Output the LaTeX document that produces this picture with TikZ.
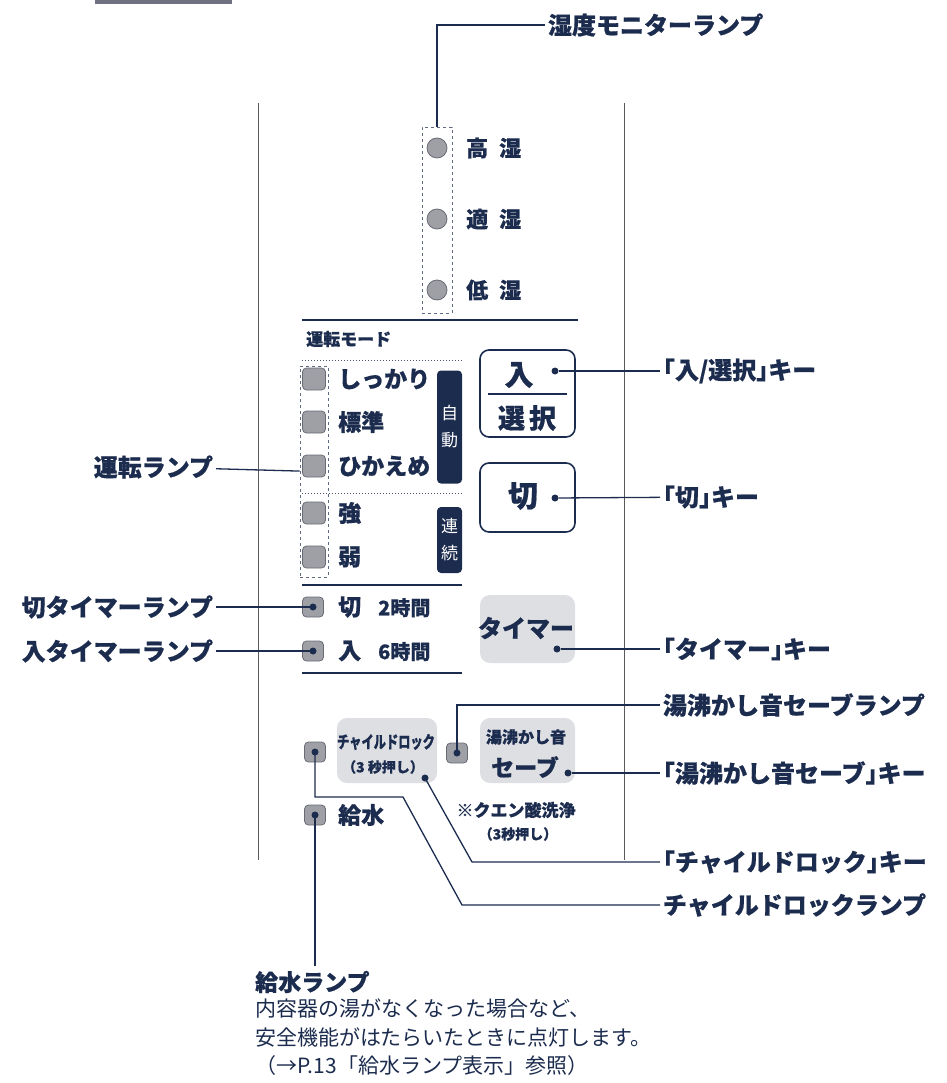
\documentclass[tikz,border=0pt]{standalone}
\usepackage{fontspec}
\usepackage{graphicx}
\setmainfont{Noto Sans CJK JP}[BoldFeatures={FakeBold=0.6}]
\usepackage{tikz}
\usetikzlibrary{positioning}
\definecolor{navy}{RGB}{28,44,78}
\definecolor{lampgray}{RGB}{158,160,166}
\definecolor{lampedge}{RGB}{105,108,116}
\definecolor{keygray}{RGB}{222,223,227}
\definecolor{tabgray}{RGB}{112,114,130}
\newcommand{\jsz}[1]{\fontsize{#1}{#1}\selectfont}
\newcommand{\kbra}[1]{{\addfontfeature{RawFeature=+halt}「}#1{\addfontfeature{RawFeature=+halt}」}}

\begin{document}
\begin{tikzpicture}[x=1pt, y=-1pt,
    lbl/.style={font=\bfseries\jsz{24}, text=navy, inner sep=0pt, outer sep=3pt},
    ptxt/.style={font=\bfseries\jsz{23}, text=navy, inner sep=0pt},
    leader/.style={draw=navy, line width=1.3pt},
    rule/.style={draw=navy, line width=1.5pt},
    hlamp/.style={circle, draw=lampedge, fill=lampgray, line width=0.8pt, minimum size=20pt, inner sep=0pt},
    mlamp/.style={rectangle, rounded corners=4pt, draw=lampedge, fill=lampgray, line width=0.8pt, minimum width=23pt, minimum height=22pt, inner sep=0pt},
    dlamp/.style={rectangle, rounded corners=4pt, draw=lampedge, fill=lampgray, line width=0.8pt, minimum width=21pt, minimum height=20pt, inner sep=0pt,
        path picture={\fill[navy] (path picture bounding box.center) circle (3.5pt);}},
    dashbox/.style={draw=navy!70, dashed, line width=0.8pt, inner sep=0pt},
    keybox/.style={draw=navy, line width=1.6pt, rounded corners=9pt, minimum width=95pt, inner sep=0pt},
    graykey/.style={fill=keygray, rounded corners=10pt, minimum width=95pt, inner sep=0pt},
    tagbox/.style={fill=navy, rounded corners=4pt, minimum width=25pt, inner sep=0pt, text=white,
        font=\fontsize{17}{27}\selectfont, align=center},
    keydot/.style={circle, fill=navy, minimum size=7pt, inner sep=0pt}]

    \useasboundingbox (0,0) rectangle (946,1083);
    \fill[tabgray] (95,0) rectangle (232,4);
    \draw[gray!70!black, line width=0.8pt] (258,103) -- (258,860) (624,103) -- (624,860);

    % humidity monitor
    \node[dashbox, minimum width=30pt, minimum height=186pt] (hbox) at (437,220) {};
    \node[hlamp] (hhi) at (437,148) {};
    \node[hlamp] (hmid) at (437,219) {};
    \node[hlamp] (hlo) at (437,290) {};
    \node[ptxt, anchor=west, font=\bfseries\jsz{22}] (thi) at (466,148) {高\hspace{11pt}湿};
    \node[ptxt, anchor=west, font=\bfseries\jsz{22}] (tmid) at (466,219) {適\hspace{11pt}湿};
    \node[ptxt, anchor=west, font=\bfseries\jsz{22}] (tlo) at (466,290) {低\hspace{11pt}湿};
    \node[lbl, anchor=west] (hmon) at (545,25) {湿度モニターランプ};
    \draw[rule] (302,320) -- (578,320);

    % mode lamps
    \node[ptxt, anchor=west, font=\bfseries\jsz{17}] (mtitle) at (306,339) {運転モード};
    \draw[draw=navy!80, dotted, line width=1pt] (302,360) -- (462,360) (302,493) -- (462,493);
    \node[dashbox, minimum width=28pt, minimum height=211pt] (mbox) at (314,471.5) {};
    \foreach \y/\nm/\txt in {379/m1/しっかり, 422/m2/標準, 466/m3/ひかえめ, 513/m4/強, 557/m5/弱} {
        \node[mlamp] (\nm) at (314,\y) {};
        \node[ptxt, anchor=west] at (338,\y) {\txt};
    }
    \node[tagbox, minimum height=113pt] (auto) at (449.5,427) {自\\動};
    \node[tagbox, minimum height=66pt] (cont) at (449.5,540) {連\\続};
    \draw[rule] (302,585) -- (462,585);

    % timer lamps
    \node[dlamp] (toff) at (313,607) {};
    \node[dlamp] (ton) at (313,651) {};
    \node[ptxt, anchor=west] at (338,607) {切\hspace{17pt}{\jsz{20}2時間}};
    \node[ptxt, anchor=west] at (338,651) {入\hspace{17pt}{\jsz{20}6時間}};
    \draw[rule] (302,673) -- (462,673);

    % keys
    \node[keybox, minimum height=87pt] (kin) at (527.5,393.5) {};
    \node[ptxt, font=\bfseries\jsz{29}] at (519,375) {入};
    \draw[navy, line width=1.5pt] (488,394) -- (567,394);
    \node[ptxt, font=\bfseries\jsz{27}] at (527,418) {選\hspace{4pt}択};
    \node[keydot] (din) at (555,371) {};

    \node[keybox, minimum height=69pt] (kkiri) at (527.5,497.5) {};
    \node[ptxt, font=\bfseries\jsz{30}] at (523,496) {切};
    \node[keydot] (dkiri) at (555,498) {};

    \node[graykey, minimum height=68pt] (ktimer) at (527.5,629) {};
    \node[ptxt, font=\bfseries\jsz{24}] at (526,628) {タイマー};
    \node[keydot] (dtimer) at (557,649) {};

    \node[graykey, minimum width=100pt, minimum height=65pt] (kchild) at (387,750.5) {};
    \node[ptxt] at (386,742) {\scalebox{0.72}[1]{\jsz{17}チャイルドロック}};
    \node[ptxt, font=\bfseries\jsz{14}] at (383,767) {（3 秒押し）};
    \node[keydot] (dchild) at (425,778) {};

    \node[graykey, minimum height=65pt] (kyu) at (527.5,750.5) {};
    \node[ptxt, font=\bfseries\jsz{16}] at (526,737) {湯沸かし音};
    \node[ptxt, font=\bfseries\jsz{23}] at (525,767) {セーブ};
    \node[keydot] (dyu) at (568,773) {};

    % lower lamps
    \node[dlamp] (lchild) at (315,752) {};
    \node[dlamp] (lyu) at (457,753) {};
    \node[dlamp] (lwater) at (315,815) {};
    \node[ptxt, anchor=west] at (338,815) {給水};
    \node[ptxt, font=\bfseries\jsz{17}] at (516,810) {※クエン酸洗浄};
    \node[ptxt, font=\bfseries\jsz{14}] at (518,834) {（3秒押し）};

    % labels
    \node[lbl, anchor=east] (lrun) at (216,467) {運転ランプ};
    \node[lbl, anchor=east] (loff) at (216,607) {切タイマーランプ};
    \node[lbl, anchor=east] (lon) at (216,651) {入タイマーランプ};
    \node[lbl, anchor=west] (rin) at (660,371) {\kbra{入/選択}キー};
    \node[lbl, anchor=west] (rkiri) at (660,497) {\kbra{切}キー};
    \node[lbl, anchor=west] (rtimer) at (660,649) {\kbra{タイマー}キー};
    \node[lbl, anchor=west] (ryulamp) at (660,705) {湯沸かし音セーブランプ};
    \node[lbl, anchor=west] (ryukey) at (660,773) {\kbra{湯沸かし音セーブ}キー};
    \node[lbl, anchor=west] (rchild) at (660,862) {\kbra{チャイルドロック}キー};
    \node[lbl, anchor=west] (rclamp) at (660,905) {チャイルドロックランプ};

    \node[ptxt, anchor=west, font=\bfseries\jsz{23}] (wlbl) at (255,982) {給水ランプ};
    \node[anchor=north west, inner sep=0pt, text=navy, font=\fontsize{21}{28.5}\selectfont, align=left] (wdesc) at (255,999)
        {内容器の湯がなくなった場合など、\\安全機能がはたらいたときに点灯します。\\（→P.13「給水ランプ表示」参照）};

    \coordinate (ckbend) at (472,862);
    \coordinate (clbend1) at (403,797);
    \coordinate (clbend2) at (462,905);
    \coordinate (wend) at (315,966);

    \path[leader]
        (lrun) edge (mbox)
        (loff) edge (toff.center)
        (lon) edge (ton.center)
        (din) edge (rin)
        (dkiri) edge (rkiri)
        (dtimer) edge (rtimer)
        (dyu) edge (ryukey);
    \draw[leader] (hbox.north) |- (hmon);
    \draw[leader] (lyu.center) |- (ryulamp);
    \draw[leader] (dchild.center) -- (ckbend) -- (rchild);
    \draw[leader] (lchild.center) |- (clbend1) -- (clbend2) -- (rclamp);
    \draw[leader] (lwater.center) -- (wend);
\end{tikzpicture}
\end{document}
